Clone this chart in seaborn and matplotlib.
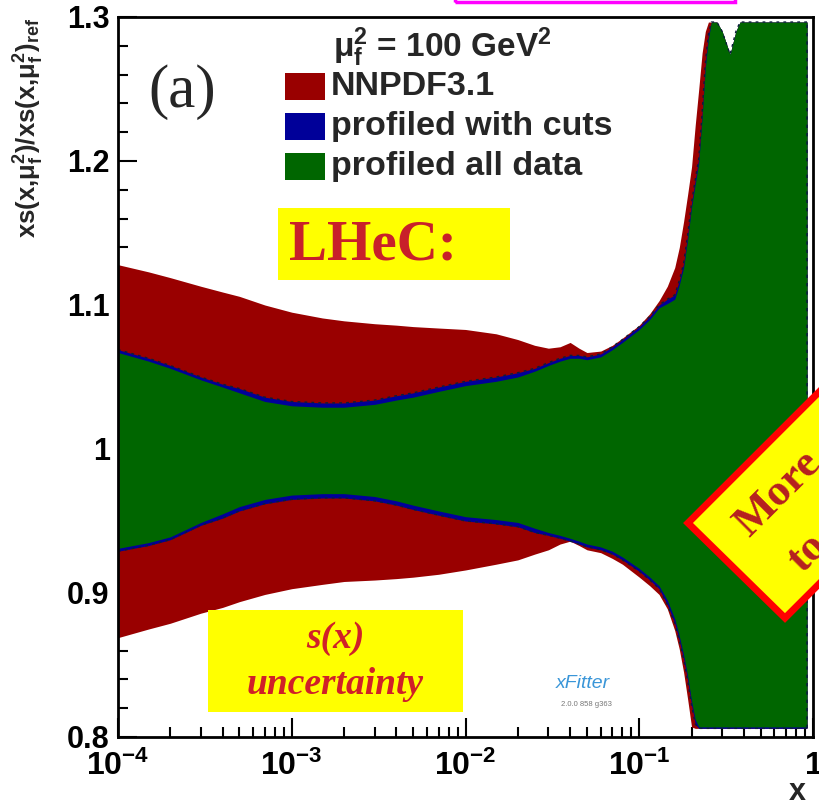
import numpy as np
import pandas as pd
import matplotlib
matplotlib.use("Agg")
import matplotlib.pyplot as plt
import seaborn as sns
from matplotlib.patches import Rectangle, Polygon
from matplotlib.ticker import LogLocator, NullFormatter, MultipleLocator

# ---------------- data ----------------
x_vals = [1e-4, 1.5e-4, 2e-4, 3e-4, 4e-4, 5e-4, 7e-4, 1e-3, 1.5e-3, 2e-3, 3e-3, 4e-3,
          5e-3, 7e-3, 1e-2, 1.5e-2, 2e-2, 2.5e-2, 3e-2, 3.5e-2, 4e-2, 4.5e-2, 5e-2,
          6e-2, 7e-2, 8e-2, 0.1, 0.115, 0.13, 0.145, 0.16, 0.17, 0.18, 0.19, 0.2,
          0.21, 0.22, 0.23, 0.24, 0.25, 0.26, 0.28, 0.3, 0.333, 0.36, 0.38, 0.5, 0.7, 0.924]

nnpdf_hi = [1.128, 1.123, 1.119, 1.113, 1.109, 1.106, 1.100, 1.095, 1.091, 1.089, 1.087, 1.086,
            1.085, 1.084, 1.083, 1.080, 1.076, 1.072, 1.070, 1.071, 1.074, 1.070, 1.067,
            1.068, 1.072, 1.077, 1.086, 1.094, 1.103, 1.113, 1.126, 1.140, 1.158, 1.177, 1.196,
            1.225, 1.250, 1.275, 1.290, 1.2965, 1.2965, 1.2965, 1.290, 1.274, 1.290, 1.2965,
            1.2965, 1.2965, 1.2965]
nnpdf_lo = [0.869, 0.875, 0.879, 0.886, 0.890, 0.894, 0.899, 0.903, 0.906, 0.908, 0.909, 0.910,
            0.911, 0.913, 0.916, 0.920, 0.923, 0.927, 0.930, 0.934, 0.936, 0.933, 0.930,
            0.928, 0.924, 0.920, 0.911, 0.905, 0.899, 0.889, 0.874, 0.861, 0.845, 0.826, 0.807,
            0.806, 0.806, 0.806, 0.806, 0.806, 0.806, 0.806, 0.806, 0.806, 0.806, 0.806,
            0.806, 0.806, 0.806]

cuts_hi = [1.069, 1.063, 1.058, 1.050, 1.045, 1.042, 1.036, 1.033, 1.032, 1.032, 1.034, 1.037,
           1.039, 1.043, 1.047, 1.050, 1.053, 1.056, 1.060, 1.063, 1.065, 1.065, 1.064,
           1.066, 1.071, 1.076, 1.085, 1.092, 1.100, 1.104, 1.107, 1.117, 1.129, 1.149, 1.171,
           1.187, 1.202, 1.233, 1.268, 1.288, 1.2965, 1.2965, 1.290, 1.274, 1.290, 1.2965,
           1.2965, 1.2965, 1.2965]
cuts_lo = [0.929, 0.933, 0.937, 0.947, 0.952, 0.957, 0.962, 0.965, 0.966, 0.966, 0.964, 0.961,
           0.958, 0.954, 0.950, 0.948, 0.946, 0.942, 0.940, 0.938, 0.936, 0.934, 0.932,
           0.930, 0.927, 0.923, 0.915, 0.909, 0.903, 0.892, 0.879, 0.867, 0.854, 0.839, 0.822,
           0.809, 0.806, 0.806, 0.806, 0.806, 0.806, 0.806, 0.806, 0.806, 0.806, 0.806,
           0.806, 0.806, 0.806]

all_hi = [1.067, 1.061, 1.056, 1.048, 1.043, 1.039, 1.033, 1.030, 1.029, 1.029, 1.031, 1.034,
          1.036, 1.040, 1.044, 1.047, 1.050, 1.054, 1.058, 1.061, 1.063, 1.063, 1.062,
          1.064, 1.069, 1.074, 1.083, 1.090, 1.098, 1.101, 1.104, 1.114, 1.126, 1.146, 1.168,
          1.184, 1.199, 1.230, 1.265, 1.285, 1.2965, 1.2965, 1.290, 1.274, 1.290, 1.2965,
          1.2965, 1.2965, 1.2965]
all_lo = [0.931, 0.935, 0.939, 0.949, 0.955, 0.960, 0.965, 0.968, 0.969, 0.969, 0.967, 0.964,
          0.961, 0.957, 0.953, 0.951, 0.949, 0.945, 0.942, 0.940, 0.938, 0.936, 0.934,
          0.932, 0.929, 0.925, 0.917, 0.911, 0.905, 0.895, 0.882, 0.870, 0.857, 0.842, 0.825,
          0.812, 0.807, 0.807, 0.807, 0.807, 0.807, 0.807, 0.807, 0.807, 0.807, 0.807,
          0.807, 0.807, 0.807]

series_names = ["NNPDF3.1", "profiled with cuts", "profiled all data"]
series_colors = ["#990000", "#000099", "#006600"]

xtick_vals = [1e-4, 1e-3, 1e-2, 1e-1, 1]
xtick_labels = [r"$10^{-4}$", r"$10^{-3}$", r"$10^{-2}$", r"$10^{-1}$", r"$1$"]
ytick_vals = [0.8, 0.9, 1.0, 1.1, 1.2, 1.3]
ytick_labels = ["0.8", "0.9", "1", "1.1", "1.2", "1.3"]

# ---------------- style ----------------
sns.set_theme(style="white")
plt.rcParams["font.family"] = ["Liberation Sans", "DejaVu Sans"]
plt.rcParams["mathtext.fontset"] = "custom"
plt.rcParams["mathtext.rm"] = "Liberation Sans:bold"
plt.rcParams["mathtext.bf"] = "Liberation Sans:bold"
plt.rcParams["mathtext.it"] = "Liberation Sans:bold"
plt.rcParams["mathtext.default"] = "rm"

W, H = 819, 807
fig = plt.figure(figsize=(W / 100, H / 100), dpi=100)
fig.patch.set_facecolor("white")


def fx(px):
    return px / W


def fy(py):
    return 1 - py / H


ax = fig.add_axes([fx(118), fy(737), (813 - 118) / W, (737 - 17) / H])
ax.set_facecolor("white")

df = pd.DataFrame({"x": x_vals,
                   "nnpdf_hi": nnpdf_hi, "nnpdf_lo": nnpdf_lo,
                   "cuts_hi": cuts_hi, "cuts_lo": cuts_lo,
                   "all_hi": all_hi, "all_lo": all_lo})

ax.fill_between(df["x"], df["nnpdf_lo"], df["nnpdf_hi"], color=series_colors[0], lw=0, zorder=1)
ax.fill_between(df["x"], df["cuts_lo"], df["cuts_hi"], color=series_colors[1], lw=0, zorder=1.1)
ax.fill_between(df["x"], df["all_lo"], df["all_hi"], color=series_colors[2], lw=0, zorder=1.2)

# dashed outline of the profiled band
for col in ["cuts_hi", "cuts_lo"]:
    sns.lineplot(data=df, x="x", y=col, ax=ax, color="#0a1f3a", lw=1.0,
                 linestyle=(0, (2, 3)), estimator=None, sort=False, zorder=1.3)
ax.vlines(df["x"].iloc[-1], df["cuts_lo"].iloc[-1], df["cuts_hi"].iloc[-1],
          color="#0a1f3a", lw=1.2, linestyles=(0, (2, 3)), zorder=1.3)

ax.set_xscale("log")
ax.set_xlim(1e-4, 1)
ax.set_ylim(0.8, 1.3)
ax.set_xlabel("")
ax.set_ylabel("")
ax.set_xticks(xtick_vals)
ax.set_xticklabels(xtick_labels)
ax.xaxis.set_minor_locator(LogLocator(base=10, subs=np.arange(2, 10)))
ax.xaxis.set_minor_formatter(NullFormatter())
ax.set_yticks(ytick_vals)
ax.set_yticklabels(ytick_labels, fontweight="bold")
ax.yaxis.set_minor_locator(MultipleLocator(0.02))

ax.tick_params(which="major", direction="in", length=14, width=1.5, color="black",
               labelcolor="black")
ax.tick_params(which="minor", direction="in", length=7, width=1.5, color="black")
ax.tick_params(axis="x", which="both", bottom=True, top=False, pad=10, labelsize=23)
ax.tick_params(axis="y", which="both", left=True, right=False, pad=6, labelsize=22)
for sp in ax.spines.values():
    sp.set_color("black")
    sp.set_linewidth(2)
    sp.set_zorder(3)

# axis titles
fig.text(fx(29), fy(18), r"xs(x,$\mu_{f}^{2}$)/xs(x,$\mu_{f}^{2}$)$_{ref}$",
         rotation=90, ha="center", va="top", fontsize=18.5, fontweight="bold")
fig.text(fx(797), fy(792), "x", ha="center", va="center", fontsize=22, fontweight="bold")

# legend (manual, ROOT style)
fig.text(fx(333), fy(47), r"$\mu_{f}^{2}$ = 100 GeV$^{2}$", ha="left", va="center",
         fontsize=24, fontweight="bold")
leg_y = [86.5, 126.5, 166.5]
for name, col, yc in zip(series_names, series_colors, leg_y):
    fig.add_artist(Rectangle((fx(285), fy(yc + 13.5)), 40 / W, 27 / H,
                             transform=fig.transFigure, facecolor=col, edgecolor="none"))
    fig.text(fx(331), fy(yc), name, ha="left", va="center", fontsize=24.5, fontweight="bold")

fig.text(fx(182), fy(92), "(a)", ha="center", va="center", fontsize=44,
         family=["Liberation Serif", "DejaVu Serif"])

# yellow annotation boxes
fig.add_artist(Rectangle((fx(278), fy(280)), (510 - 278) / W, (280 - 208) / H,
                         transform=fig.transFigure, facecolor="#ffff00", edgecolor="none", zorder=2))
fig.text(fx(289), fy(246), "LHeC:", ha="left", va="center", fontsize=41, fontweight="bold",
         color="#c8202a", family=["Liberation Serif", "DejaVu Serif"], zorder=3)

fig.add_artist(Rectangle((fx(208), fy(712)), (463 - 208) / W, (712 - 610) / H,
                         transform=fig.transFigure, facecolor="#ffff00", edgecolor="none", zorder=2))
fig.text(fx(335), fy(638), "s(x)", ha="center", va="center", fontsize=27, fontweight="bold",
         style="italic", color="#d02028", family=["Liberation Serif", "DejaVu Serif"], zorder=3)
fig.text(fx(335), fy(684), "uncertainty", ha="center", va="center", fontsize=27, fontweight="bold",
         style="italic", color="#d02028", family=["Liberation Serif", "DejaVu Serif"], zorder=3)

# rotated box on the right, cut by the edge
corners = [(688, 523), (785, 618), (1018, 385), (921, 290)]
fig.add_artist(Polygon([(fx(a), fy(b)) for a, b in corners], closed=True,
                       transform=fig.transFigure, facecolor="#ffff00", edgecolor="#ff0000",
                       lw=5, joinstyle="miter", zorder=2))
fig.text(fx(778), fy(494), "More", rotation=45, rotation_mode="anchor", ha="center", va="center",
         fontsize=32, fontweight="bold", color="#b52020",
         family=["Liberation Serif", "DejaVu Serif"], zorder=3)
fig.text(fx(808), fy(553), "to", rotation=45, rotation_mode="anchor", ha="center", va="center",
         fontsize=32, fontweight="bold", color="#b52020",
         family=["Liberation Serif", "DejaVu Serif"], zorder=3)

# magenta frame at the very top
fig.add_artist(Rectangle((fx(455), fy(2)), (735 - 455) / W, 12 / H,
                         transform=fig.transFigure, facecolor="none", edgecolor="#ff00ff",
                         lw=2.5, zorder=2))

# xFitter logo text
fig.text(fx(583), fy(683), "xFitter", ha="center", va="center", fontsize=14,
         style="italic", color="#3a96d8", zorder=3)
fig.text(fx(586), fy(705), "2.0.0 858 g363", ha="center", va="center", fontsize=5.5,
         color="#777777", zorder=3)

fig.savefig("out.png", dpi=100)
